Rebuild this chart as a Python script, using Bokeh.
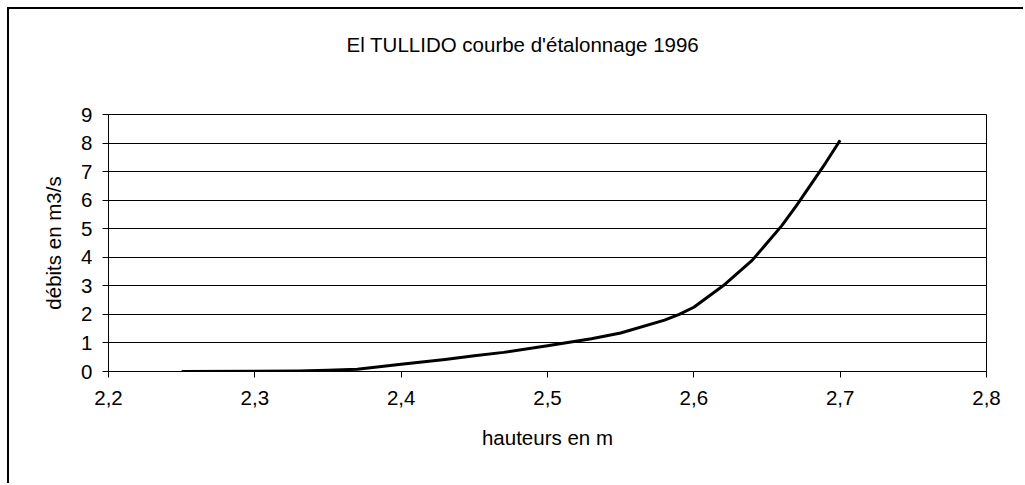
from bokeh.plotting import figure
from bokeh.models import FixedTicker, Range1d, Title
from bokeh.embed import file_html
from bokeh.resources import INLINE

# Data (hauteur m, débit m3/s)
hauteurs = [2.25, 2.30, 2.33, 2.35, 2.37, 2.40, 2.43, 2.45, 2.47, 2.50,
            2.53, 2.55, 2.58, 2.59, 2.60, 2.62, 2.64, 2.66, 2.67, 2.69, 2.70]
debits = [0.0, 0.01, 0.02, 0.04, 0.08, 0.25, 0.42, 0.55, 0.67, 0.90,
          1.15, 1.35, 1.80, 2.00, 2.25, 3.00, 3.90, 5.10, 5.80, 7.30, 8.10]

x_ticks = [2.2, 2.3, 2.4, 2.5, 2.6, 2.7, 2.8]
x_tick_labels = ["2,2", "2,3", "2,4", "2,5", "2,6", "2,7", "2,8"]
y_ticks = [0, 1, 2, 3, 4, 5, 6, 7, 8, 9]

title_text = "El TULLIDO courbe d'étalonnage 1996"
x_label = "hauteurs en m"
y_label = "débits en m3/s"

FONT = "Liberation Sans"
FS = "20.5px"

p = figure(width=1016, height=476, output_backend="svg", toolbar_location=None,
           x_range=Range1d(2.2, 2.8), y_range=Range1d(0, 9),
           min_border_left=99, min_border_right=39,
           min_border_top=105, min_border_bottom=114,
           styles={"border-left": "2px solid black", "border-top": "2px solid black",
                   "margin-left": "7px", "margin-top": "7px"})

# blank spacer between the frame and the title
spacer = Title(text=" ", text_font_size="1px", standoff=51)
p.add_layout(spacer, "above")

t = Title(text=title_text, align="left", offset=238, standoff=10,
          text_font=FONT, text_font_size=FS, text_font_style="normal",
          text_color="black")
p.add_layout(t, "above")

p.line(hauteurs, debits, line_color="black", line_width=3, line_join="round")

p.outline_line_color = "black"
p.outline_line_width = 1
p.background_fill_color = "white"
p.border_fill_color = "white"

p.xgrid.visible = False
p.ygrid.ticker = FixedTicker(ticks=y_ticks)
p.ygrid.grid_line_color = "black"
p.ygrid.grid_line_width = 1

p.xaxis.ticker = FixedTicker(ticks=x_ticks)
p.xaxis.major_label_overrides = {v: s for v, s in zip(x_ticks, x_tick_labels)}
p.yaxis.ticker = FixedTicker(ticks=y_ticks)

for ax in (p.xaxis[0], p.yaxis[0]):
    ax.axis_line_color = "black"
    ax.major_tick_line_color = "black"
    ax.major_tick_out = 6
    ax.major_tick_in = 0
    ax.minor_tick_line_color = None
    ax.major_label_text_font = FONT
    ax.major_label_text_font_size = FS
    ax.major_label_text_color = "black"
    ax.axis_label_text_font = FONT
    ax.axis_label_text_font_size = FS
    ax.axis_label_text_font_style = "normal"
    ax.axis_label_text_color = "black"

p.xaxis.axis_label = x_label
p.yaxis.axis_label = y_label
p.xaxis.major_label_standoff = 13
p.xaxis.axis_label_standoff = 18
p.yaxis.major_label_standoff = 10
p.yaxis.axis_label_standoff = 13

open("out.html", "w").write(file_html(p, INLINE))
